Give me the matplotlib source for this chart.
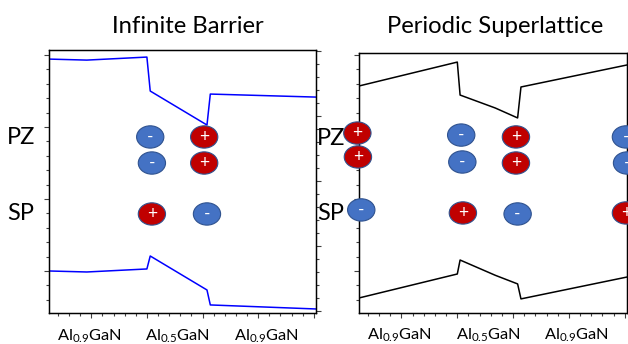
import matplotlib.pyplot as plt
from matplotlib.patches import Ellipse
from matplotlib.ticker import MultipleLocator

plt.rcParams['font.family'] = ['Lato', 'DejaVu Sans']
plt.rcParams['mathtext.fontset'] = 'custom'
plt.rcParams['mathtext.rm'] = 'Lato'

# band edges for the infinite barrier structure (position, energy)
ib_x = [-3.8, -0.4, 5.0, 5.3, 10.4, 10.7, 20.2]
ib_cb = [14.72, 14.65, 14.86, 12.5, 10.14, 12.29, 12.08]
ib_vb = [0.0, -0.07, 0.14, 1.04, -1.32, -2.36, -2.64]

# band edges for one period of the superlattice
sl_x = [-3.8, 5.0, 5.25, 8.4, 10.4, 10.7, 20.2]
sl_cb = [12.85, 14.51, 12.22, 11.32, 10.63, 12.78, 14.31]
sl_vb = [-1.875, -0.21, 0.76, -0.3, -0.90, -1.94, -0.42]

# interface charges: piezoelectric (PZ) rows and spontaneous (SP) row
ib_q_x = [5.3, 10.15, 5.45, 10.15, 5.45, 10.4]
ib_q_y = [9.31, 9.31, 7.5, 7.5, 3.96, 3.96]
ib_q_sign = ['-', '+', '-', '+', '+', '-']

sl_q_x = [-3.95, -3.9, 5.35, 5.45, 10.25, 10.25, 20.1, 20.2, -3.6, 5.5, 10.4, 20.1]
sl_q_y = [9.58, 7.92, 9.44, 7.57, 9.31, 7.5, 9.31, 7.5, 4.24, 4.03, 3.96, 4.03]
sl_q_sign = ['+', '+', '-', '-', '+', '+', '-', '-', '-', '+', '-', '+']

layer_labels = [r'Al$_{\mathrm{0.9}}$GaN', r'Al$_{\mathrm{0.5}}$GaN', r'Al$_{\mathrm{0.9}}$GaN']
layer_label_x = [-0.2, 7.75, 15.7]

fig = plt.figure(figsize=(6.28, 3.44), dpi=100)
ax1 = fig.add_axes([0.078, 0.0901, 0.4252, 0.7645])
ax2 = fig.add_axes([0.5717, 0.0901, 0.4268, 0.7558])


def style(ax, ylim, twin_ylim):
    ax.set_xlim(-3.8, 20.2)
    ax.set_ylim(*ylim)
    for a in (ax.xaxis, ax.yaxis):
        a.set_major_locator(MultipleLocator(5))
        a.set_minor_locator(MultipleLocator(1))
    ax.tick_params(which='both', direction='out', labelbottom=False,
                   labelleft=False, color='#404040', width=0.8)
    ax.tick_params(which='major', length=3.5)
    ax.tick_params(which='minor', length=2)
    for s in ax.spines.values():
        s.set_linewidth(1.0)
    tw = ax.twinx()
    tw.set_ylim(*twin_ylim)
    tw.yaxis.set_major_locator(MultipleLocator(5))
    tw.yaxis.set_minor_locator(MultipleLocator(1))
    tw.tick_params(which='both', direction='out', labelright=False,
                   color='#404040', width=0.8)
    tw.tick_params(which='major', length=3.5)
    tw.tick_params(which='minor', length=2)
    ax.set_zorder(tw.get_zorder() + 1)
    ax.patch.set_visible(False)


def charges(ax, xs, ys, signs):
    for x, y, s in zip(xs, ys, signs):
        face = '#4472C4' if s == '-' else '#C00000'
        ax.add_patch(Ellipse((x, y), 2.45, 1.55, facecolor=face,
                             edgecolor='#2F528F', lw=0.8, clip_on=False, zorder=5))
        ax.text(x, y, s, color='white', ha='center', va='center',
                fontsize=12.5, clip_on=False, zorder=6)


style(ax1, (-2.92, 15.35), (-0.15, 20.1))
style(ax2, (-2.92, 15.14), (0, 17.3))

ax1.plot(ib_x, ib_cb, color='#0000FF', lw=1.1)
ax1.plot(ib_x, ib_vb, color='#0000FF', lw=1.1)
ax2.plot(sl_x, sl_cb, color='black', lw=1.1)
ax2.plot(sl_x, sl_vb, color='black', lw=1.1)

charges(ax1, ib_q_x, ib_q_y, ib_q_sign)
charges(ax2, sl_q_x, sl_q_y, sl_q_sign)

for ax in (ax1, ax2):
    tr = ax.get_xaxis_transform()
    for lx, lab in zip(layer_label_x, layer_labels):
        ax.text(lx, -0.103, lab, transform=tr, ha='center', va='baseline',
                fontsize=11.8)

ax1.text(0.519, 1.065, 'Infinite Barrier', transform=ax1.transAxes,
         ha='center', va='baseline', fontsize=17.2)
ax2.text(0.507, 1.077, 'Periodic Superlattice', transform=ax2.transAxes,
         ha='center', va='baseline', fontsize=17.2)

# PZ / SP row labels
fig.text(21.5 / 628, 1 - 137 / 344, 'PZ', ha='center', va='center', fontsize=17)
fig.text(20.5 / 628, 1 - 214 / 344, 'SP', ha='center', va='center', fontsize=17)
fig.text(331 / 628, 1 - 138 / 344, 'PZ', ha='center', va='center', fontsize=17)
fig.text(331 / 628, 1 - 213 / 344, 'SP', ha='center', va='center', fontsize=17)

fig.savefig('out.png', dpi=100)
